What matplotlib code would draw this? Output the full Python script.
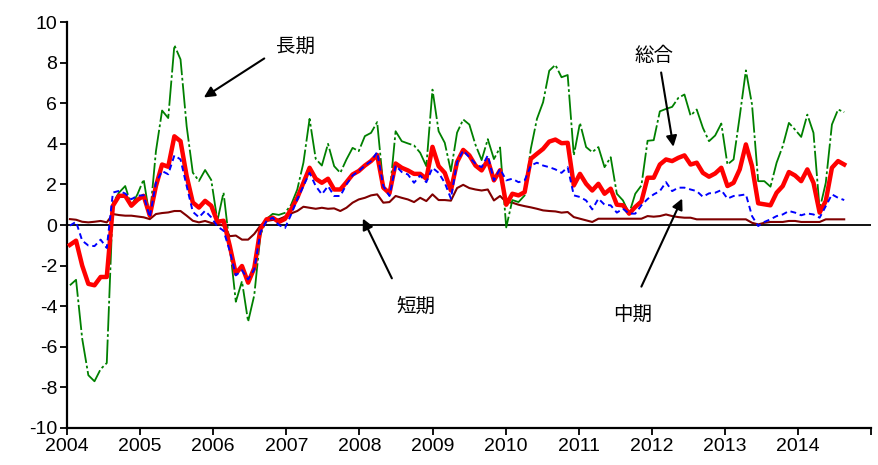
import matplotlib
matplotlib.use('Agg')
import matplotlib.pyplot as plt
import numpy as np

plt.rcParams['font.family'] = ['Noto Sans CJK JP', 'DejaVu Sans']
plt.rcParams['axes.unicode_minus'] = False

# 総合 (thick red)
sogo = [-0.98, -0.77, -2.0, -2.9, -2.97, -2.56, -2.56, 0.95, 1.44, 1.44,
        0.95, 1.24, 1.44, 0.46, 1.92, 2.98, 2.87, 4.37, 4.13, 2.41,
        1.11, 0.86, 1.19, 0.95, 0.16, 0.21, -1.01, -2.4, -2.02, -2.84,
        -2.12, -0.2, 0.28, 0.36, 0.15, 0.3, 0.77, 1.34, 2.08, 2.82,
        2.28, 2.08, 2.28, 1.75, 1.75, 2.11, 2.49, 2.66, 2.93, 3.15,
        3.45, 1.84, 1.56, 3.03, 2.82, 2.69, 2.52, 2.52, 2.28, 3.85,
        2.9, 2.57, 1.7, 3.1, 3.7, 3.43, 2.93, 2.69, 3.2, 2.2,
        2.7, 1.0, 1.54, 1.46, 1.62, 3.26, 3.51, 3.75, 4.11, 4.21,
        4.03, 4.05, 1.95, 2.52, 2.03, 1.7, 2.03, 1.54, 1.79, 1.0,
        0.97, 0.56, 0.89, 1.16, 2.33, 2.33, 2.98, 3.23, 3.15, 3.31,
        3.43, 2.98, 3.07, 2.57, 2.38, 2.54, 2.82, 1.92, 2.08, 2.74,
        3.97, 2.9, 1.07, 1.02, 0.97, 1.59, 1.92, 2.61, 2.44, 2.16,
        2.74, 2.08, 0.61, 1.18, 2.82, 3.15, 2.98]

# 長期 (green dash-dot)
choki = [-2.97, -2.7, -5.6, -7.4, -7.7, -7.1, -6.8, 1.1, 1.6, 1.92,
         0.95, 1.52, 2.25, 0.38, 3.64, 5.64, 5.27, 8.86, 8.16, 4.86,
         2.58, 2.17, 2.71, 2.22, 0.21, 1.6, -1.0, -3.78, -2.77, -4.76,
         -3.46, -0.5, 0.3, 0.55, 0.5, 0.6, 1.0, 1.75, 3.07, 5.23,
         3.26, 2.93, 4.0, 2.9, 2.57, 3.23, 3.8, 3.64, 4.38, 4.54,
         5.07, 1.92, 1.46, 4.62, 4.13, 4.02, 3.92, 3.56, 2.9, 6.67,
         4.62, 4.05, 2.65, 4.55, 5.2, 4.95, 3.95, 3.2, 4.23, 3.25,
         3.82, -0.12, 1.23, 1.13, 1.46, 3.75, 5.23, 6.05, 7.6, 7.89,
         7.28, 7.39, 3.43, 5.03, 3.84, 3.59, 3.84, 2.85, 3.34, 1.54,
         1.21, 0.56, 1.54, 1.95, 4.15, 4.18, 5.6, 5.72, 5.82, 6.26,
         6.43, 5.39, 5.69, 4.79, 4.13, 4.41, 5.0, 2.98, 3.23, 5.36,
         7.62, 5.93, 2.16, 2.16, 1.89, 3.07, 3.89, 5.03, 4.7, 4.34,
         5.44, 4.54, 0.77, 2.08, 4.95, 5.69, 5.56]

# 中期 (blue dashed)
chuki = [-0.03, 0.16, -0.77, -1.01, -1.04, -0.72, -1.13, 1.6, 1.68, 1.55,
         1.27, 1.44, 1.47, 0.38, 2.09, 2.66, 2.5, 3.43, 3.23, 1.92,
         0.65, 0.38, 0.7, 0.38, -0.07, -0.28, -1.26, -2.48, -2.23, -2.68,
         -2.19, -0.36, 0.2, 0.36, 0.0, -0.15, 0.52, 1.26, 1.92, 2.57,
         1.92, 1.51, 1.92, 1.43, 1.43, 2.0, 2.44, 2.66, 2.93, 3.15,
         3.59, 1.92, 1.43, 2.93, 2.61, 2.49, 2.08, 2.44, 2.11, 2.82,
         2.57, 2.08, 1.3, 3.1, 3.67, 3.34, 3.02, 2.85, 3.43, 2.2,
         2.77, 2.2, 2.28, 2.11, 2.2, 2.93, 3.07, 2.93, 2.85, 2.74,
         2.57, 2.85, 1.46, 1.38, 1.21, 0.77, 1.3, 1.0, 0.97, 0.61,
         0.8, 0.56, 0.56, 0.97, 1.28, 1.51, 1.67, 2.11, 1.67, 1.84,
         1.84, 1.75, 1.67, 1.39, 1.56, 1.59, 1.72, 1.3, 1.43, 1.46,
         1.51, 0.44, -0.05, 0.15, 0.28, 0.44, 0.52, 0.69, 0.61, 0.48,
         0.57, 0.52, 0.36, 0.93, 1.51, 1.34, 1.23]

# 短期 (dark red)
tanki = [0.29, 0.26, 0.16, 0.13, 0.16, 0.2, 0.13, 0.54, 0.49, 0.46,
         0.46, 0.42, 0.38, 0.29, 0.54, 0.59, 0.62, 0.69, 0.69, 0.46,
         0.21, 0.13, 0.2, 0.1, 0.05, -0.03, -0.55, -0.52, -0.72, -0.72,
         -0.44, -0.03, 0.2, 0.25, 0.28, 0.41, 0.57, 0.69, 0.9, 0.85,
         0.8, 0.85, 0.8, 0.82, 0.69, 0.85, 1.1, 1.26, 1.34, 1.46,
         1.51, 1.1, 1.13, 1.43, 1.34, 1.26, 1.13, 1.34, 1.18, 1.51,
         1.23, 1.23, 1.2, 1.82, 1.98, 1.82, 1.75, 1.7, 1.75, 1.21,
         1.43, 1.13, 1.1, 1.0, 0.93, 0.87, 0.8, 0.72, 0.69, 0.67,
         0.61, 0.64, 0.39, 0.31, 0.23, 0.15, 0.31, 0.31, 0.31, 0.31,
         0.31, 0.31, 0.31, 0.31, 0.44, 0.41, 0.44, 0.52, 0.44, 0.39,
         0.36, 0.36, 0.28, 0.28, 0.28, 0.28, 0.28, 0.28, 0.28, 0.28,
         0.28, 0.11, 0.03, 0.11, 0.15, 0.15, 0.15, 0.2, 0.2, 0.15,
         0.15, 0.15, 0.15, 0.28, 0.28, 0.28, 0.28]

years = list(range(2004, 2016))
year_labels = [str(y) for y in range(2004, 2015)] + ['']

n = len(sogo)
x = np.linspace(2004.04, 2014.63, n)

fig = plt.figure(figsize=(8.79, 4.65), dpi=100)
ax = fig.add_axes([0.0762, 0.0796, 0.915, 0.873])

ax.axhline(0, color='black', lw=1.3, zorder=1)
ax.plot(x, tanki, color='#800000', lw=1.5, zorder=2)
ax.plot(x, choki, color='#008000', lw=1.3, ls=(0, (14, 1.5, 1.5, 1.5)), zorder=3)
ax.plot(x, sogo, color='#ff0000', lw=3.2, zorder=4)
ax.plot(x, chuki, color='#0000ff', lw=1.4, ls=(0, (3, 2)), zorder=5)

ax.set_xlim(2004, 2015)
ax.set_ylim(-10, 10)
ax.set_xticks(years)
ax.set_xticklabels(year_labels)
ax.set_yticks(range(-10, 11, 2))
for sp in ['top', 'right']:
    ax.spines[sp].set_visible(False)
for sp in ['left', 'bottom']:
    ax.spines[sp].set_linewidth(1.6)
ax.tick_params(direction='out', length=5, width=1.3, labelsize=14, pad=2)
for lab in ax.get_xticklabels() + ax.get_yticklabels():
    lab.set_family(['Liberation Sans', 'DejaVu Sans'])

arrow = dict(arrowstyle='-|>', color='black', lw=1.5, mutation_scale=16)
ax.annotate('', xy=(2005.84, 6.21), xytext=(2006.73, 8.28), arrowprops=arrow)
ax.text(2007.12, 8.78, '長期', fontsize=14, ha='center', va='center')
ax.annotate('', xy=(2008.03, 0.44), xytext=(2008.46, -2.75), arrowprops=arrow)
ax.text(2008.77, -4.0, '短期', fontsize=14, ha='center', va='center')
ax.annotate('', xy=(2012.30, 3.72), xytext=(2012.12, 7.65), arrowprops=arrow)
ax.text(2012.03, 8.34, '総合', fontsize=14, ha='center', va='center')
ax.annotate('', xy=(2012.43, 1.43), xytext=(2011.84, -3.16), arrowprops=arrow)
ax.text(2011.73, -4.45, '中期', fontsize=14, ha='center', va='center')

fig.savefig('out.png', dpi=100)
